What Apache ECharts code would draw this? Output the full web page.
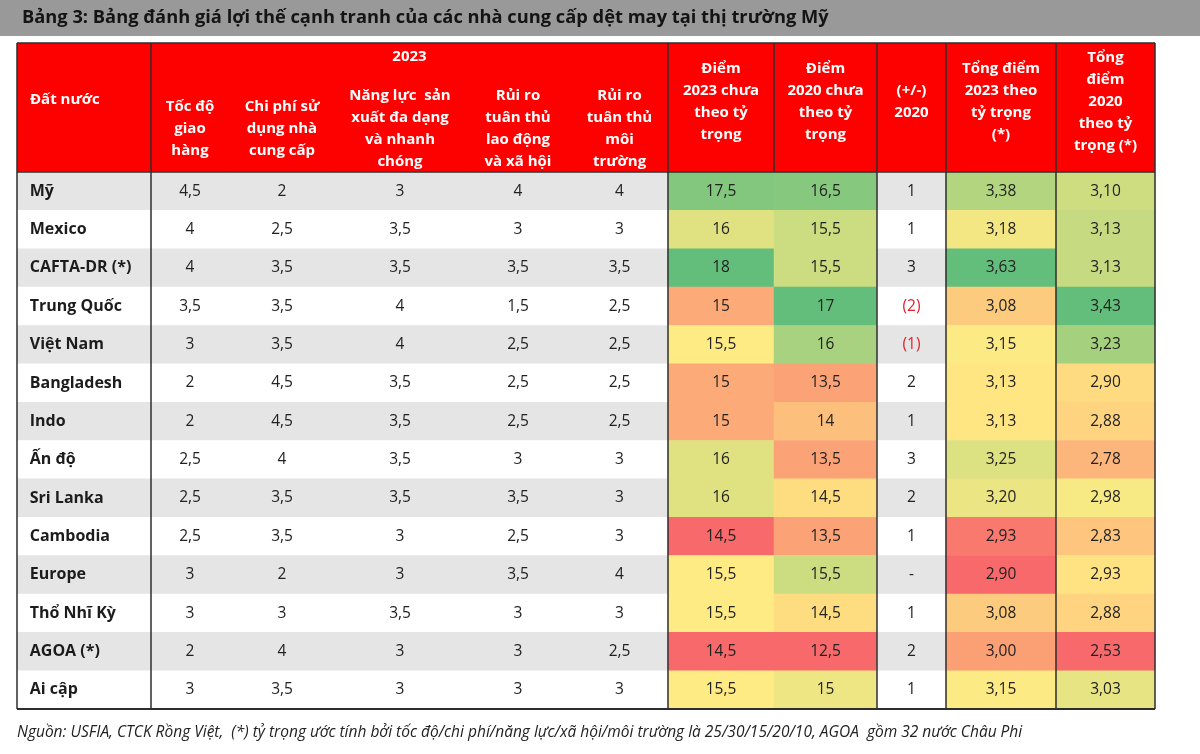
<!DOCTYPE html>
<html><head><meta charset="utf-8">
<script src="https://cdn.jsdelivr.net/npm/echarts@6/dist/echarts.min.js"></script>
<style>html,body{margin:0;padding:0;background:#fff}#c{width:1200px;height:754px}</style>
</head><body><div id="c"></div>
<script>
// ---------- data ----------
const title = 'Bảng 3: Bảng đánh giá lợi thế cạnh tranh của các nhà cung cấp dệt may tại thị trường Mỹ';
const footnote = 'Nguồn: USFIA, CTCK Rồng Việt,  (*) tỷ trọng ước tính bởi tốc độ/chi phí/năng lực/xã hội/môi trường là 25/30/15/20/10, AGOA  gồm 32 nước Châu Phi';
const countryHeader = 'Đất nước';
const groupHeader = '2023';
const countries = ['Mỹ','Mexico','CAFTA-DR (*)','Trung Quốc','Việt Nam','Bangladesh','Indo','Ấn độ','Sri Lanka','Cambodia','Europe','Thổ Nhĩ Kỳ','AGOA (*)','Ai cập'];
const headers = [
  'Tốc độ\ngiao\nhàng',
  'Chi phí sử\ndụng nhà\ncung cấp',
  'Năng lực  sản\nxuất đa dạng\nvà nhanh\nchóng',
  'Rủi ro\ntuân thủ\nlao động\nvà xã hội',
  'Rủi ro\ntuân thủ\nmôi\ntrường',
  'Điểm\n2023 chưa\ntheo tỷ\ntrọng',
  'Điểm\n2020 chưa\ntheo tỷ\ntrọng',
  '(+/-)\n2020',
  'Tổng điểm\n2023 theo\ntỷ trọng\n(*)',
  'Tổng\nđiểm\n2020\ntheo tỷ\ntrọng (*)'
];
const speed        = [4.5,4,4,3.5,3,2,2,2.5,2.5,2.5,3,3,2,3];
const cost         = [2,2.5,3.5,3.5,3.5,4.5,4.5,4,3.5,3.5,2,3,4,3.5];
const capacity     = [3,3.5,3.5,4,4,3.5,3.5,3.5,3.5,3,3,3.5,3,3];
const laborRisk    = [4,3,3.5,1.5,2.5,2.5,2.5,3,3.5,2.5,3.5,3,3,3];
const envRisk      = [4,3,3.5,2.5,2.5,2.5,2.5,3,3,3,4,3,2.5,3];
const score2023    = [17.5,16,18,15,15.5,15,15,16,16,14.5,15.5,15.5,14.5,15.5];
const score2020    = [16.5,15.5,15.5,17,16,13.5,14,13.5,14.5,13.5,15.5,14.5,12.5,15];
const change       = [1,1,3,-2,-1,2,1,3,2,1,0,1,2,1];
const weighted2023 = [3.38,3.18,3.63,3.08,3.15,3.13,3.13,3.25,3.20,2.93,2.90,3.08,3.00,3.15];
const weighted2020 = [3.10,3.13,3.13,3.43,3.23,2.90,2.88,2.78,2.98,2.83,2.93,2.88,2.53,3.03];

// ---------- layout / style ----------
const colEdges = [17,151,229,335,465,571,668,774,877,946,1056,1155];
const TABLE_TOP = 43, HEAD_BOTTOM = 172, TABLE_BOTTOM = 709;
const FONT = '"Open Sans", "Noto Sans", sans-serif';
const HEAD_RED = '#fd0000';
const STRIPE = '#e5e5e5';
const LINE = '#2e2e2e';
const RED='#F8696B', YEL='#FFEB84', GRN='#63BE7B';

function hex(c){return [1,3,5].map(i=>parseInt(c.slice(i,i+2),16));}
function mix(a,b,t){const A=hex(a),B=hex(b);t=Math.max(0,Math.min(1,t));return 'rgb('+A.map((v,i)=>Math.round(v+(B[i]-v)*t)).join(',')+')';}
function median(arr){const s=[...arr].sort((a,b)=>a-b),n=s.length;return n%2?s[(n-1)/2]:(s[n/2-1]+s[n/2])/2;}
function scale3(arr){
  const mn=Math.min(...arr), mx=Math.max(...arr), md=median(arr);
  return v => v<=md ? mix(RED,YEL,(v-mn)/(md-mn)) : mix(YEL,GRN,(v-md)/(mx-md));
}
const fmt = (v,dec) => (dec ? v.toFixed(dec) : String(v)).replace('.', ',');

const columns = [
  {values: speed,        kind:'plain'},
  {values: cost,         kind:'plain'},
  {values: capacity,     kind:'plain'},
  {values: laborRisk,    kind:'plain'},
  {values: envRisk,      kind:'plain'},
  {values: score2023,    kind:'heat'},
  {values: score2020,    kind:'heat'},
  {values: change,       kind:'diff'},
  {values: weighted2023, kind:'heat', dec:2},
  {values: weighted2020, kind:'heat', dec:2}
];

const stripe = r => (r % 2 === 0 ? STRIPE : '#ffffff');
const grids=[], xAxes=[], yAxes=[], series=[];

function addGrid(i, headerText, margin){
  grids.push({left: colEdges[i], width: colEdges[i+1]-colEdges[i], top: HEAD_BOTTOM, height: TABLE_BOTTOM-HEAD_BOTTOM, containLabel:false});
  xAxes.push({gridIndex:i, type:'category', data:[headerText], position:'top', z:10,
    axisLine:{show:false}, axisTick:{show:false}, splitLine:{show:false},
    axisLabel:{show: headerText!=='', interval:0, color:'#ffffff', fontWeight:'bold', fontSize:15, lineHeight:22,
      fontFamily:FONT, verticalAlign:'middle', align:'center', margin: margin}});
  yAxes.push({gridIndex:i, type:'category', data:countries, inverse:true, show:false});
}

// country column
addGrid(0, '', 0);
series.push({type:'heatmap', xAxisIndex:0, yAxisIndex:0, silent:true, emphasis:{disabled:true},
  data: countries.map((c,r)=>({value:[0,r,r], itemStyle:{color: stripe(r)}})),
  label:{show:true, position:'insideLeft', distance:13, formatter:p=>countries[p.value[1]],
    color:'#1c1c1c', fontWeight:'bold', fontSize:16, fontFamily:FONT}});

columns.forEach((col, k) => {
  const i = k+1;
  addGrid(i, headers[k], (k < 5) ? 43 : 70);
  const colorOf = col.kind==='heat' ? scale3(col.values) : null;
  series.push({type:'heatmap', xAxisIndex:i, yAxisIndex:i, silent:true, emphasis:{disabled:true},
    data: col.values.map((v,r)=>({value:[0,r,v], itemStyle:{color: colorOf ? colorOf(v) : stripe(r)}})),
    label:{show:true, color:'#222', fontSize:15.5, fontFamily:FONT,
      formatter: p => {
        const v = p.value[2];
        if (col.kind==='diff') { if (v===0) return '-'; if (v<0) return '{neg|('+(-v)+')}'; return String(v); }
        return fmt(v, col.dec);
      },
      rich:{neg:{color:'#e3202e', fontSize:15.5, fontFamily:FONT}}}});
});

// ---------- frame graphics ----------
const L = colEdges[0], R = colEdges[colEdges.length-1];
const graphic = [
  {type:'rect', shape:{x:0,y:0,width:1200,height:36}, style:{fill:'#999999'}, z:0},
  {type:'text', x:22, y:18, style:{text:title, fill:'#141414', font:'bold 18.3px '+FONT, textVerticalAlign:'middle'}, z:5},
  {type:'rect', shape:{x:L,y:TABLE_TOP,width:R-L,height:HEAD_BOTTOM-TABLE_TOP}, style:{fill:HEAD_RED}, z:0},
  {type:'text', x:30, y:100, style:{text:countryHeader, fill:'#fff', font:'bold 15px '+FONT, textVerticalAlign:'middle'}, z:20},
  {type:'text', x:(colEdges[1]+colEdges[6])/2, y:57, style:{text:groupHeader, fill:'#fff', font:'bold 15px '+FONT, textAlign:'center', textVerticalAlign:'middle'}, z:20},
  {type:'text', x:17, y:733, style:{text:footnote, fill:'#222', font:'italic 15.5px '+FONT, textVerticalAlign:'middle'}, z:5}
];
[17,151,668,877,946,1056,1155].forEach(x=>graphic.push({type:'line', shape:{x1:x,y1:TABLE_TOP,x2:x,y2:TABLE_BOTTOM}, style:{stroke:LINE, lineWidth:1.5}, z:50}));
graphic.push({type:'line', shape:{x1:774,y1:TABLE_TOP,x2:774,y2:HEAD_BOTTOM}, style:{stroke:LINE, lineWidth:1.5}, z:50});
[TABLE_TOP, HEAD_BOTTOM, TABLE_BOTTOM].forEach(y=>graphic.push({type:'line', shape:{x1:L,y1:y,x2:R,y2:y}, style:{stroke:LINE, lineWidth: y===TABLE_BOTTOM?2:1.5}, z:50}));

const chart = echarts.init(document.getElementById('c'));
chart.setOption({animation:false, backgroundColor:'#ffffff', grid:grids, xAxis:xAxes, yAxis:yAxes, series:series, graphic:graphic});
</script></body></html>
